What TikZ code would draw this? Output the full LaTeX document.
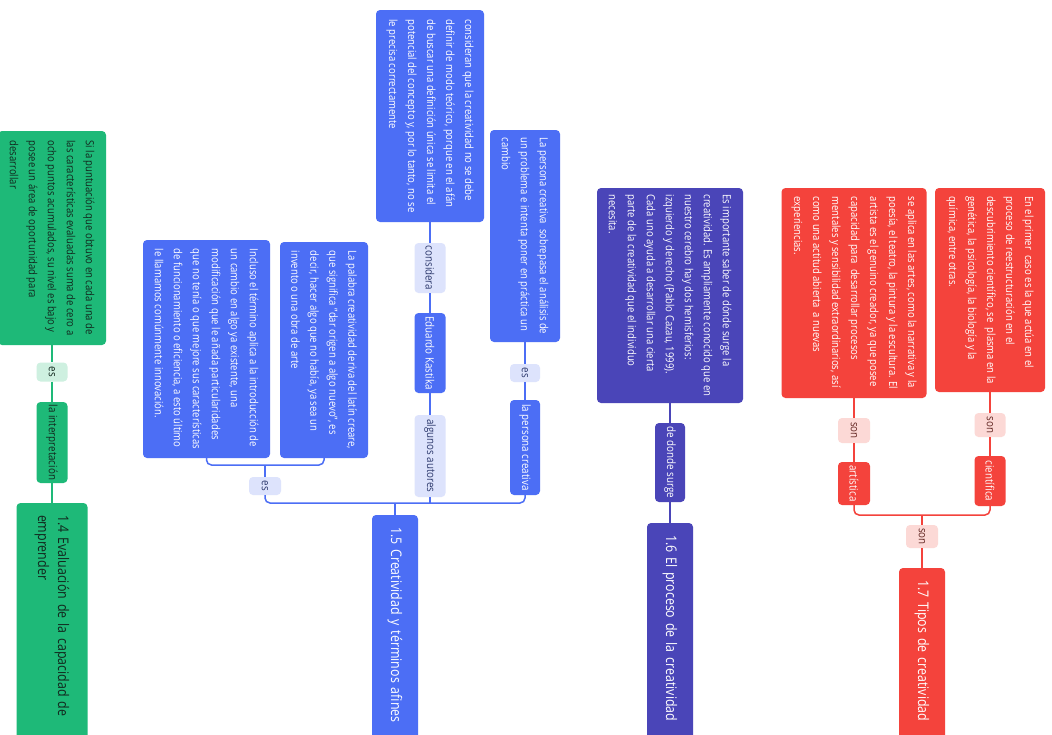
\documentclass[tikz,border=0pt]{standalone}
\usepackage{fontspec}
\setmainfont{Open Sans}[FakeStretch=0.85]
\definecolor{gC}{RGB}{30,185,120}
\definecolor{gL}{RGB}{206,240,224}
\definecolor{gT}{RGB}{18,40,30}
\definecolor{bC}{RGB}{76,110,245}
\definecolor{bL}{RGB}{221,227,252}
\definecolor{bT}{RGB}{46,58,110}
\definecolor{pC}{RGB}{74,69,184}
\definecolor{pL}{RGB}{222,221,245}
\definecolor{rC}{RGB}{244,67,60}
\definecolor{rL}{RGB}{252,217,214}
\definecolor{rT}{RGB}{100,40,36}
\tikzset{
  box/.style={rotate=-90, rounded corners=4pt, align=left, inner sep=0pt,
    font=\fontsize{11.2}{19}\selectfont},
  sz/.style n args={2}{minimum height=#1pt, minimum width=#2pt},
  lbl/.style={rotate=-90, rounded corners=4pt, inner sep=0pt,
    font=\fontsize{11.5}{13}\selectfont},
  ttl/.style={rotate=-90, rounded corners=4pt, align=left, inner ysep=0pt,
    inner xsep=12pt, font=\fontsize{14.6}{20}\selectfont},
  gbox/.style={box, fill=gC, text=gT},
  glbl/.style={lbl, fill=gL, text=gT},
  gnode/.style={lbl, fill=gC, text=gT},
  bbox/.style={box, fill=bC, text=white},
  blbl/.style={lbl, fill=bL, text=bT},
  bnode/.style={lbl, fill=bC, text=white},
  pbox/.style={box, fill=pC, text=white},
  pnode/.style={lbl, fill=pC, text=white},
  rbox/.style={box, fill=rC, text=white},
  rlbl/.style={lbl, fill=rL, text=rT},
  rnode/.style={lbl, fill=rC, text=white},
  gline/.style={draw=gC, line width=1.5pt},
  bline/.style={draw=bC, line width=1.5pt},
  pline/.style={draw=pC, line width=1.5pt},
  rline/.style={draw=rC, line width=1.5pt},
}
\begin{document}
\begin{tikzpicture}[x=1pt,y=1pt]
\clip (0,0) rectangle (1052,-734);
\fill[white] (0,0) rectangle (1052,-734);

% ---------- green ----------
\node[gbox, sz={108}{214}] (g1) at (52,-238) {Si la puntuación que obtuvo en cada una de\\las características evaluadas suma de cero a\\ocho puntos acumulados, su nivel es bajo y\\posee un área de oportunidad para\\desarrollar};
\node[glbl, sz={31}{19}] (gEs) at (52,-372) {es};
\node[gnode, sz={31}{81}] (gInt) at (52,-442.5) {la interpretación};
\node[ttl, fill=gC, text=gT, sz={71}{247}, text width=223pt] (g14) at (52,-626.5) {1.4 Evaluación de la capacidad de\\emprender};
\draw[gline] (g1.east) -- (gEs.west);
\draw[gline] (gEs.east) -- (gInt.west);
\draw[gline] (gInt.east) -- (g14.west);

% ---------- blue ----------
\node[bbox, sz={127}{218}] (b1) at (206.5,-349) {Incluso el término aplica a la introducción de\\un cambio en algo ya existente, una\\modificación que le añada particularidades\\que no tenía o que mejore sus características\\de funcionamiento o eficiencia, a esto último\\le llamamos comúnmente innovación.};
\node[bbox, sz={88}{216}] (b2) at (324,-350) {La palabra creatividad deriva del latín creare,\\que significa "dar origen a algo nuevo", es\\decir, hacer algo que no había, ya sea un\\invento o una obra de arte};
\node[blbl, sz={32}{18}] (bEs) at (265,-486) {es};
\node[bbox, sz={108}{212}] (b3) at (430,-116) {consideran que la creatividad no se debe\\definir de modo teórico, porque en el afán\\de buscar una definición única se limita el\\potencial del concepto y, por lo tanto, no se\\le precisa correctamente};
\node[blbl, sz={31}{50}] (bCons) at (430,-268) {considera};
\node[bnode, sz={31}{80}] (bEdu) at (430,-353) {Eduardo Kastika};
\node[blbl, sz={31}{82}] (bAut) at (430,-456) {algunos autores};
\node[bbox, sz={70}{212}] (b4) at (525,-236) {La persona creativa\ \ sobrepasa el análisis de\\un problema e intenta poner en práctica un\\cambio};
\node[blbl, sz={30}{18}] (bEs2) at (525,-373) {es};
\node[bnode, sz={30}{95}] (bPer) at (525,-447.5) {la persona creativa};
\node[ttl, fill=bC, text=white, sz={46}{235}, text width=211pt] (b15) at (395,-632.5) {1.5 Creatividad y términos afines};
\coordinate (brk) at (265,-465);
\coordinate (bar15) at (395,-503);
\draw[bline, rounded corners=5pt] (b1.east) |- (brk) -| (b2.east);
\draw[bline] (brk) -- (bEs.west);
\draw[bline, rounded corners=5pt] (bEs.east) |- (bar15) -| (bPer.east);
\draw[bline] (bAut.east) -- (bAut.east |- bar15);
\draw[bline] (b15.west) -- (bar15);
\draw[bline] (b3.east) -- (bCons.west);
\draw[bline] (bCons.east) -- (bEdu.west);
\draw[bline] (bEdu.east) -- (bAut.west);
\draw[bline] (b4.east) -- (bEs2.west);
\draw[bline] (bEs2.east) -- (bPer.west);

% ---------- purple ----------
\node[pbox, sz={146}{215}] (p1) at (670,-295.5) {Es importante saber de dónde surge la\\creatividad. Es ampliamente conocido que en\\nuestro cerebro hay dos hemisferios:\\izquierdo y derecho (Pablo Cazau, 1999).\\Cada uno ayuda a desarrollar una cierta\\parte de la creatividad que el individuo\\necesita.};
\node[pnode, sz={30}{79}] (pDon) at (670,-462.5) {de donde surge};
\node[ttl, fill=pC, text=white, sz={46}{227}, text width=203pt] (p16) at (670,-636.5) {1.6 El proceso de la creatividad};
\draw[pline] (p1.east) -- (pDon.west);
\draw[pline] (pDon.east) -- (p16.west);

% ---------- red ----------
\node[rbox, sz={145}{210}] (r1) at (854,-293) {se aplica en las artes, como la narrativa y la\\poesía, el teatro, la pintura y la escultura. El\\artista es el genuino creador, ya que posee\\capacidad para\ \ desarrollar procesos\\mentales y sensibilidad extraordinarios, así\\como una actitud abierta\ \ a nuevas\\experiencias.};
\node[rlbl, sz={32}{25}] (rSon1) at (854,-430.5) {son};
\node[rnode, sz={32}{43}] (rArt) at (854,-483.5) {artística};
\node[rbox, sz={110}{204}] (r2) at (990,-290) {En el primer\ \ caso es la que actúa en el\\proceso de reestructuración en el\\descubrimiento científico, se\ \ plasma en la\\genética, la psicología, la biología y la\\química, entre otras.};
\node[rlbl, sz={31}{24}] (rSon2) at (990,-425) {son};
\node[rnode, sz={31}{50}] (rCie) at (990,-481) {científica};
\node[rlbl, sz={32}{23}] (rSon3) at (922,-536.5) {son};
\node[ttl, fill=rC, text=white, sz={46}{182}, text width=158pt] (r17) at (922,-659) {1.7 Tipos de creatividad};
\coordinate (bar17) at (922,-515);
\draw[rline] (r1.east) -- (rSon1.west);
\draw[rline] (rSon1.east) -- (rArt.west);
\draw[rline] (r2.east) -- (rSon2.west);
\draw[rline] (rSon2.east) -- (rCie.west);
\draw[rline, rounded corners=5pt] (rArt.east) |- (bar17) -| (rCie.east);
\draw[rline] (bar17) -- (rSon3.west);
\draw[rline] (rSon3.east) -- (r17.west);
\end{tikzpicture}
\end{document}
